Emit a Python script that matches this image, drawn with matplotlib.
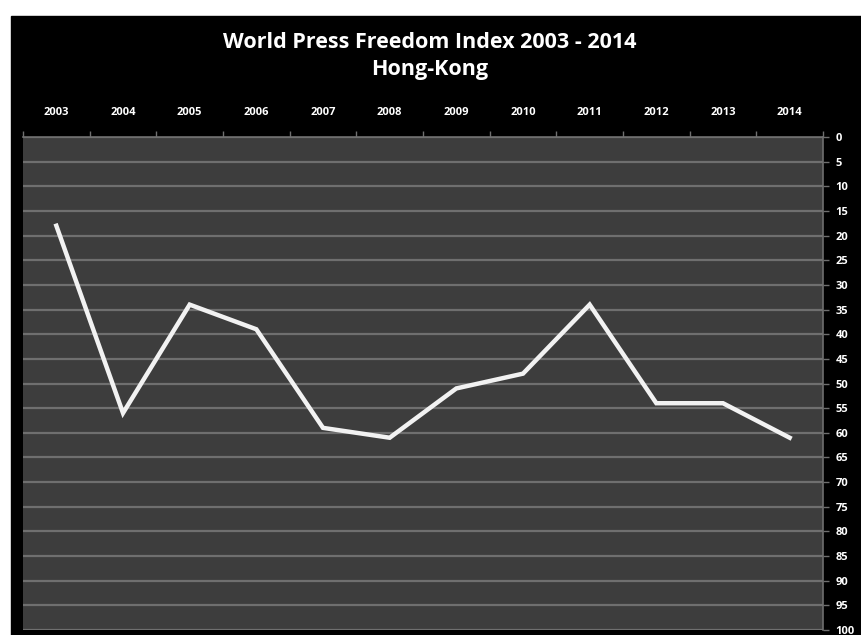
import numpy as np
import matplotlib
matplotlib.use("Agg")
import matplotlib.pyplot as plt
from matplotlib.patches import Rectangle

years = ["2003", "2004", "2005", "2006", "2007", "2008",
         "2009", "2010", "2011", "2012", "2013", "2014"]
rank = [18, 56, 34, 39, 59, 61, 51, 48, 34, 54, 54, 61]
y_ticks = list(range(0, 101, 5))

W, H = 862, 635
fig = plt.figure(figsize=(W / 100, H / 100), dpi=100)
fig.patch.set_facecolor("white")
fig.patches.append(Rectangle((11 / W, 0), 1 - 11 / W, 1 - 16 / H,
                             transform=fig.transFigure, color="black", zorder=-5))

GRID = "#6f6f6f"
FONT = "Open Sans"
ax = fig.add_axes([23 / W, 5 / H, 800 / W, (630 - 137) / H])
ax.set_zorder(2)
ax.set_facecolor("#3d3d3d")

x = np.arange(len(years))
ax.plot(x, rank, color="#f2f2f2", lw=3.2, solid_joinstyle="miter", zorder=3)

ax.set_xlim(-0.5, len(years) - 0.5)
ax.set_ylim(100, 0)
ax.xaxis.tick_top()
ax.yaxis.tick_right()
ax.set_xticks(x)
ax.set_xticklabels(years, fontfamily=FONT, fontweight="bold", fontsize=8, color="white")
ax.set_xticks(np.arange(-0.5, len(years)), minor=True)
ax.tick_params(axis="x", which="major", length=0, pad=14)
ax.tick_params(axis="x", which="minor", length=4, color=GRID, width=1, top=True, bottom=False)
ax.set_yticks(y_ticks)
# the last label (100) is clipped by the bottom edge, as in the original
ax.set_yticklabels([str(v) for v in y_ticks], fontfamily=FONT, fontweight="bold",
                   fontsize=8, color="white")
ax.tick_params(axis="y", length=4, color=GRID, width=1, pad=5)
ax.grid(axis="y", color=GRID, lw=1.6)
ax.set_axisbelow(True)
for s in ["left", "bottom"]:
    ax.spines[s].set_visible(False)
for s in ["top", "right"]:
    ax.spines[s].set_color(GRID)
    ax.spines[s].set_linewidth(1.2)

fig.text(430 / W, 1 - 42 / H, "World Press Freedom Index 2003 - 2014", ha="center",
         va="center", color="white", fontfamily=FONT, fontweight="bold", fontsize=15.5)
fig.text(430 / W, 1 - 69 / H, "Hong-Kong", ha="center", va="center", color="white",
         fontfamily=FONT, fontweight="bold", fontsize=15.5)

fig.savefig("out.png", dpi=100)
